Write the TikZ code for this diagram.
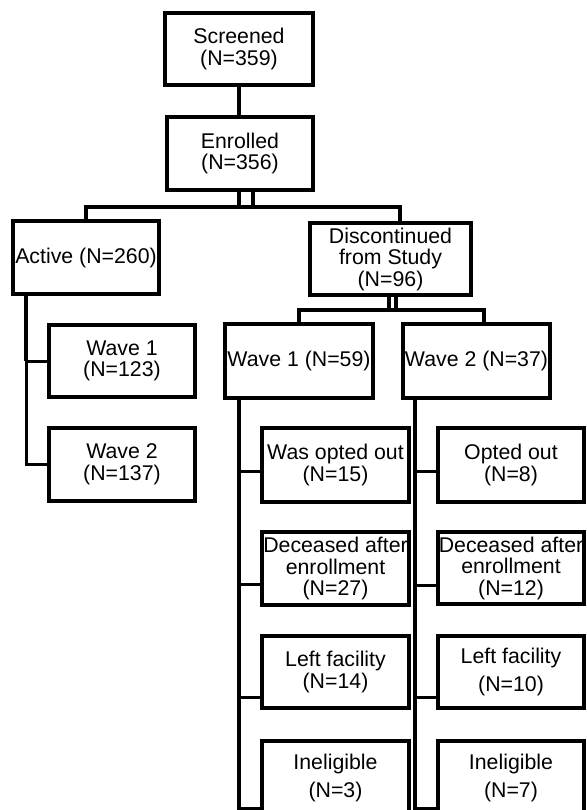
\documentclass[tikz,border=0pt]{standalone}
\usepackage{fontspec}
\setmainfont{Liberation Sans}
\usetikzlibrary{calc}
\tikzset{
  box/.style={draw, line width=4pt, inner sep=0pt, align=center,
    font=\fontsize{21.3}{21.5}\selectfont},
  conn/.style={line width=4pt},
  stub/.style={line width=3pt}
}
\begin{document}
\begin{tikzpicture}[x=1pt,y=-1pt]
\useasboundingbox (0,0) rectangle (586,810);
\clip (0,0) rectangle (586,810);
% top
\node[box, minimum width=148pt, minimum height=72pt] (scr) at (239,49) {Screened\\(N=359)};
\node[box, minimum width=146pt, minimum height=73pt] (enr) at (240,153.5) {Enrolled\\(N=356)};
% second level
\node[box, minimum width=146pt, minimum height=73pt] (act) at (86,257.5) {Active (N=260)};
\node[box, minimum width=161pt, minimum height=72pt] (dis) at (390.5,259) {Discontinued\\from Study\\(N=96)};
% active children
\node[box, minimum width=146pt, minimum height=72pt] (a1) at (122,361) {Wave 1\\(N=123)};
\node[box, minimum width=146pt, minimum height=73pt] (a2) at (122,464.5) {Wave 2\\(N=137)};
% discontinued children
\node[box, minimum width=148pt, minimum height=74pt] (w1) at (299,361) {Wave 1 (N=59)};
\node[box, minimum width=147pt, minimum height=74pt] (w2) at (476.5,361) {Wave 2 (N=37)};
% wave 1 reasons
\node[box, minimum width=147pt, minimum height=74pt] (o1) at (335.5,465) {Was opted out\\(N=15)};
\node[box, minimum width=147pt, minimum height=73pt] (d1) at (335.5,568.5) {Deceased after\\enrollment\\(N=27)};
\node[box, minimum width=147pt, minimum height=72pt] (l1) at (335.5,672) {Left facility\\(N=14)};
\node[box, minimum width=147pt, minimum height=74pt] (i1) at (335.5,778) {Ineligible\\[6.5pt](N=3)};
% wave 2 reasons
\node[box, minimum width=146pt, minimum height=74pt] (o2) at (511,465) {Opted out\\(N=8)};
\node[box, minimum width=146pt, minimum height=72pt] (d2) at (511,568) {Deceased after\\enrollment\\(N=12)};
\node[box, minimum width=146pt, minimum height=72pt] (l2) at (511,672) {Left facility\\[6.5pt](N=10)};
\node[box, minimum width=146pt, minimum height=74pt] (i2) at (511,778) {Ineligible\\[6.5pt](N=7)};

% connectors
\draw[conn] (scr.south) -- (scr.south |- enr.north);
\coordinate (hr) at (400,207);
\draw[conn] ($(enr.south)+(-1,0)$) -- ($(enr.south)+(-1,17)$);
\draw[conn] ($(enr.south)+(13,0)$) -- ($(enr.south)+(13,17)$);
\draw[conn] (act.north) |- (hr) -- (hr |- dis.north);

\coordinate (hl2) at (299,310);
\coordinate (hr2) at (484,310);
\draw[conn] ($(dis.south)+(-1.5,0)$) -- ($(dis.south)+(-1.5,15)$);
\draw[conn] ($(dis.south)+(5.5,0)$) -- ($(dis.south)+(5.5,15)$);
\draw[conn] (w1.north) -- (hl2) -- (hr2) -- (hr2 |- w2.north);

% active branch
\coordinate (av) at ($(act.south west)+(15,0)$);
\draw[conn] (av) -- (av |- a1.west);
\draw[stub] (av |- a1.west) -- (a1.west);
\draw[stub] ($(av |- a1.west)+(0,-1)$) |- (a2.west);

% wave 1 branch
\coordinate (v1) at ($(w1.south west)+(16,0)$);
\draw[conn] (v1) -- (v1 |- 0,830);
\draw[stub] (v1 |- 0,471) -- (o1.west |- 0,471);
\draw[stub] (v1 |- 0,584) -- (d1.west |- 0,584);
\draw[stub] (v1 |- 0,697) -- (l1.west |- 0,697);
\draw[stub] (v1 |- 0,808) -- (i1.west |- 0,808);

% wave 2 branch
\coordinate (v2) at ($(w2.south west)+(14,0)$);
\draw[conn] (v2) -- (v2 |- 0,830);
\draw[stub] (v2 |- 0,471) -- (o2.west |- 0,471);
\draw[stub] (v2 |- 0,585) -- (d2.west |- 0,585);
\draw[stub] (v2 |- 0,697) -- (l2.west |- 0,697);
\draw[stub] (v2 |- 0,808) -- (i2.west |- 0,808);
\end{tikzpicture}
\end{document}
